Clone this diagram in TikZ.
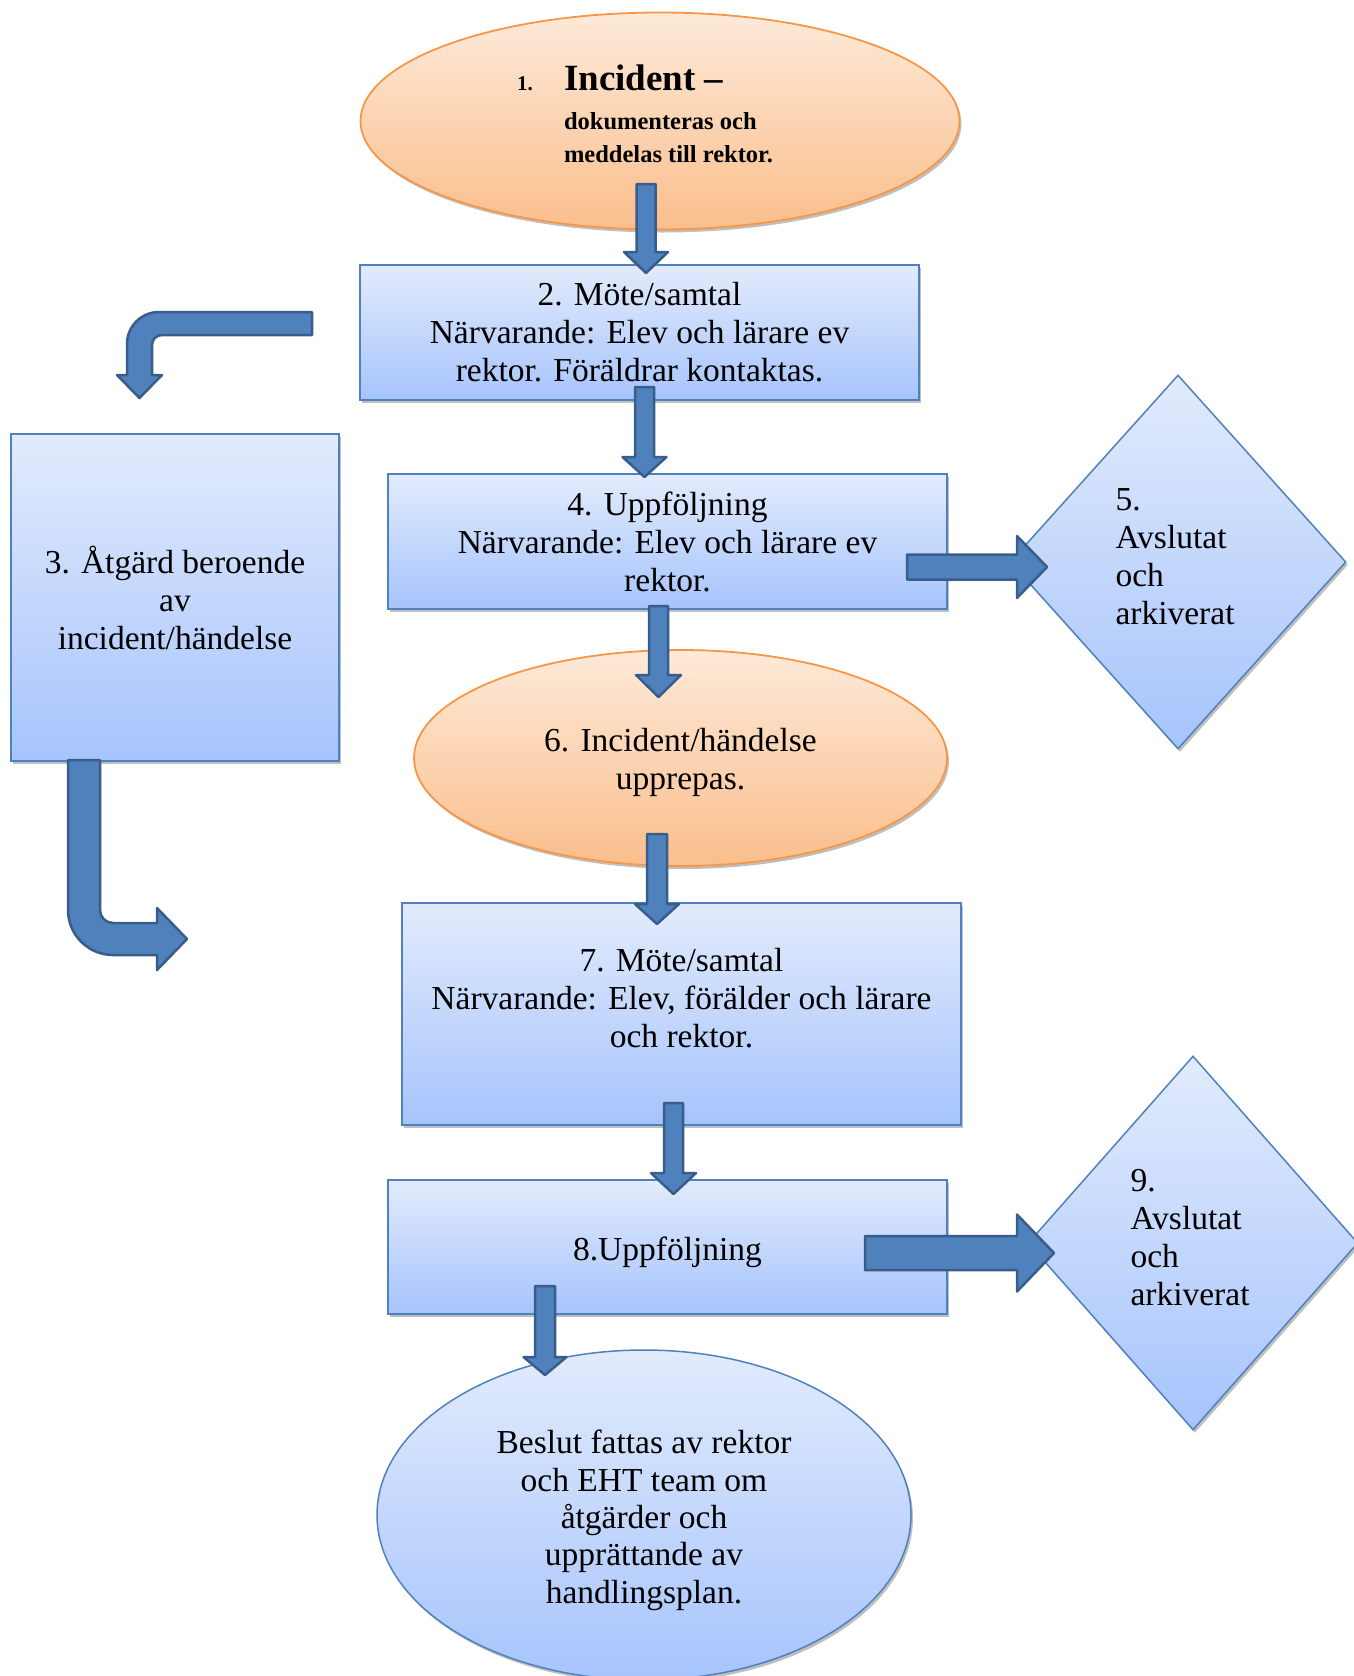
\documentclass[tikz,border=0pt]{standalone}
\usepackage{fontspec}
\setmainfont{Liberation Serif}
\usetikzlibrary{shapes.geometric,shadows,calc}

\definecolor{orgTop}{RGB}{253,234,217}
\definecolor{orgBot}{RGB}{250,190,140}
\definecolor{orgLine}{RGB}{247,150,70}
\definecolor{bluTop}{RGB}{226,235,252}
\definecolor{bluBot}{RGB}{166,196,252}
\definecolor{bluLine}{RGB}{79,129,189}
\definecolor{arrFill}{RGB}{79,129,189}
\definecolor{arrLine}{RGB}{56,93,138}

\tikzset{
  basebox/.style={inner sep=0pt, align=center,
    font=\fontsize{33.5}{38}\selectfont,
    drop shadow={opacity=0.25, shadow xshift=2pt, shadow yshift=-3pt, fill=black}},
  bluebox/.style={basebox, rectangle, draw=bluLine, line width=1.5pt,
    top color=bluTop, bottom color=bluBot},
  blueell/.style={basebox, ellipse, draw=bluLine, line width=1.5pt,
    top color=bluTop, bottom color=bluBot},
  orangeell/.style={basebox, ellipse, draw=orgLine, line width=1.8pt,
    top color=orgTop, bottom color=orgBot},
  bluediamond/.style={basebox, diamond, draw=bluLine, line width=1.5pt,
    top color=bluTop, bottom color=bluBot, text width=125pt, align=left},
  blockarrow/.style={fill=arrFill, draw=arrLine, line width=2.5pt, line join=round}
}

\newcommand\downblock[5]{%
  \draw[blockarrow] ($(#1)+(-#3pt,0pt)$) -- ($(#1)+(#3pt,0pt)$)
    -- ($(#2)+(#3pt,#5pt)$) -- ($(#2)+(#4pt,#5pt)$) -- (#2)
    -- ($(#2)+(-#4pt,#5pt)$) -- ($(#2)+(-#3pt,#5pt)$) -- cycle;}
\newcommand\rightblock[5]{%
  \draw[blockarrow] ($(#1)+(0pt,#3pt)$) -- ($(#2)+(-#5pt,#3pt)$)
    -- ($(#2)+(-#5pt,#4pt)$) -- (#2) -- ($(#2)+(-#5pt,-#4pt)$)
    -- ($(#2)+(-#5pt,-#3pt)$) -- ($(#1)+(0pt,-#3pt)$) -- cycle;}

\begin{document}
\begin{tikzpicture}[x=1pt,y=-1pt]
\useasboundingbox (0,0) rectangle (1354,1676);

% ---------- shapes ----------
\node[orangeell, minimum width=599pt, minimum height=217pt, align=left,
      font=\fontsize{24}{33}\selectfont\bfseries] (n1) at (660,121)
  {\makebox[47pt][l]{\fontsize{21}{21}\selectfont\bfseries 1.}{\fontsize{37}{40}\selectfont\bfseries Incident –}\\[6pt]
   \hspace*{47pt}\fontsize{24.5}{33}\selectfont\bfseries dokumenteras och\\
   \hspace*{47pt}\fontsize{24.5}{33}\selectfont\bfseries meddelas till rektor.\hspace*{30pt}\rule[-15pt]{0pt}{0pt}};

\node[bluebox, minimum width=559pt, minimum height=135pt] (n2) at (639.5,332.5)
  {2. Möte/samtal\\Närvarande: Elev och lärare ev\\rektor. Föräldrar kontaktas.};

\node[bluebox, minimum width=328pt, minimum height=327pt] (n3) at (175,597.5)
  {3. Åtgärd beroende\\av\\incident/händelse};

\node[bluebox, minimum width=559pt, minimum height=135pt] (n4) at (667.5,541.5)
  {4. Uppföljning\\Närvarande: Elev och lärare ev\\rektor.};

\node[bluediamond, minimum width=336pt, minimum height=374pt] (n5) at (1178,562)
  {5.\\Avslutat\\och\\arkiverat\rule[-11pt]{0pt}{0pt}};

\node[orangeell, minimum width=533pt, minimum height=216pt] (n6) at (680.5,758)
  {\rule{0pt}{31.5pt}6. Incident/händelse\\upprepas.};

\node[bluebox, minimum width=559pt, minimum height=222pt] (n7) at (681.5,1014)
  {7. Möte/samtal\\Närvarande: Elev, förälder och lärare\\och rektor.\rule[-31.5pt]{0pt}{0pt}};

\node[bluebox, minimum width=559pt, minimum height=134pt] (n8) at (667.5,1247)
  {\rule{0pt}{33.5pt}8.Uppföljning};

\node[bluediamond, minimum width=330pt, minimum height=374pt] (n9) at (1193,1243)
  {9.\\Avslutat\\och\\arkiverat\rule[-11pt]{0pt}{0pt}};

\node[blueell, minimum width=534pt, minimum height=330pt,
      font=\fontsize{33.5}{37.4}\selectfont] (n10) at (644,1515)
  {\rule{0pt}{34pt}Beslut fattas av rektor\\och EHT team om\\åtgärder och\\upprättande av\\handlingsplan.};

% ---------- arrow end points ----------
\coordinate (a1s) at (646,184);   \coordinate (a1t) at (646,273);
\coordinate (a2s) at (644.5,387); \coordinate (a2t) at (644.5,477);
\coordinate (a3s) at (658.5,606); \coordinate (a3t) at (658.5,697);
\coordinate (a4s) at (657,834);   \coordinate (a4t) at (657,924);
\coordinate (a5s) at (673.5,1103);\coordinate (a5t) at (673.5,1194);
\coordinate (a6s) at (545,1286);  \coordinate (a6t) at (545,1375);
\coordinate (a7s) at (907,567);   \coordinate (a7t) at (1047,567);
\coordinate (a8s) at (865,1253);  \coordinate (a8t) at (1054,1253);

% ---------- block arrows ----------
\downblock{a1s}{a1t}{9.5}{22}{21}
\downblock{a2s}{a2t}{9.5}{22}{20}
\downblock{a3s}{a3t}{9.5}{22.5}{22}
\downblock{a4s}{a4t}{10}{22}{20}
\downblock{a5s}{a5t}{9.5}{22.5}{21}
\downblock{a6s}{a6t}{10}{21.5}{18}
\rightblock{a7s}{a7t}{12.5}{31}{30}
\rightblock{a8s}{a8t}{17}{38.5}{37}

% bent arrow top left
\draw[blockarrow] (312,312) -- (159,312) .. controls (141.3,312) and (127,326.3) .. (127,344)
  -- (127,375) -- (117,375) -- (139.5,398) -- (162,375) -- (152,375) -- (152,345)
  .. controls (152,339.5) and (156.5,335) .. (162,335) -- (312,335) -- cycle;

% bent arrow bottom left
\draw[blockarrow] (68,760) -- (68,910) .. controls (68,934.8) and (88.2,955) .. (113,955)
  -- (157,955) -- (157,970) -- (187,939) -- (157,908) -- (157,923) -- (113,923)
  .. controls (105.8,923) and (100,917.2) .. (100,910) -- (100,760) -- cycle;
\end{tikzpicture}
\end{document}
